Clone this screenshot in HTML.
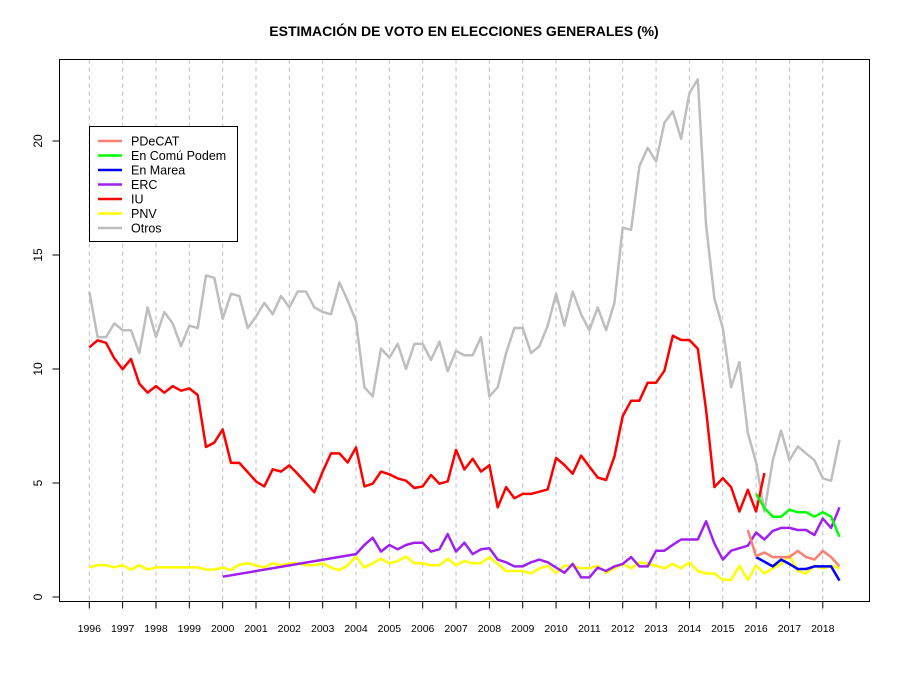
<!DOCTYPE html>
<html><head><meta charset="utf-8"><style>
body{margin:0;background:#fff}
svg{display:block;font-family:"Liberation Sans",Arial,sans-serif}
</style></head><body>
<svg id="chart" width="900" height="675" viewBox="0 0 900 675">
<text x="464" y="36" text-anchor="middle" font-size="14" font-weight="bold">ESTIMACIÓN DE VOTO EN ELECCIONES GENERALES (%)</text>
<g id="grid"></g>
<g id="series"></g>
<rect x="59.5" y="59.5" width="810" height="542" fill="none" stroke="#000" stroke-width="1"/>
<g id="yaxis"></g>
<g id="xaxis"></g>
<g id="legend"></g>
</svg>
<script>
const years=[1996,1997,1998,1999,2000,2001,2002,2003,2004,2005,2006,2007,2008,2009,2010,2011,2012,2013,2014,2015,2016,2017,2018];
const yTicks=[0,5,10,15,20];
const seriesNames=["PDeCAT","En Comú Podem","En Marea","ERC","IU","PNV","Otros"];
const otrosStart=1996;
const otrosValues=[13.4,11.4,11.4,12.0,11.7,11.7,10.7,12.7,11.4,12.5,12.0,11.0,11.9,11.8,14.1,14.0,12.2,13.3,13.2,11.8,12.3,12.9,12.4,13.2,12.7,13.4,13.4,12.7,12.5,12.4,13.8,13.0,12.1,9.2,8.8,10.9,10.5,11.1,10.0,11.1,11.1,10.4,11.2,9.9,10.8,10.6,10.6,11.4,8.8,9.2,10.7,11.8,11.8,10.7,11.0,11.9,13.3,11.9,13.4,12.4,11.7,12.7,11.7,12.9,16.2,16.1,18.9,19.7,19.1,20.8,21.3,20.1,22.1,22.7,16.3,13.1,11.8,9.2,10.3,7.2,5.9,3.75,6.0,7.3,6.0,6.6,6.3,6.0,5.2,5.1,6.9];
const pnvStart=1996;
const pnvValues=[1.3,1.4,1.4,1.3,1.4,1.2,1.4,1.2,1.3,1.3,1.3,1.3,1.3,1.3,1.2,1.2,1.29,1.18,1.42,1.48,1.39,1.29,1.48,1.39,1.48,1.48,1.39,1.39,1.48,1.29,1.18,1.39,1.77,1.29,1.48,1.68,1.48,1.58,1.77,1.48,1.48,1.39,1.39,1.68,1.39,1.58,1.48,1.48,1.75,1.45,1.14,1.14,1.14,1.03,1.26,1.37,1.06,1.37,1.37,1.26,1.26,1.37,1.06,1.26,1.45,1.26,1.52,1.45,1.37,1.26,1.45,1.26,1.52,1.14,1.03,1.03,0.75,0.75,1.37,0.75,1.37,1.03,1.26,1.45,1.83,1.14,1.03,1.37,1.26,1.37,1.26];
const iuStart=1996;
const iuValues=[10.95,11.26,11.15,10.47,9.99,10.44,9.36,8.96,9.25,8.96,9.25,9.05,9.15,8.86,6.58,6.77,7.35,5.88,5.88,5.48,5.07,4.85,5.6,5.5,5.77,5.4,5.0,4.59,5.5,6.3,6.3,5.9,6.56,4.85,4.97,5.5,5.38,5.2,5.1,4.78,4.85,5.35,4.97,5.07,6.45,5.59,6.06,5.5,5.78,3.93,4.82,4.33,4.52,4.52,4.62,4.72,6.1,5.79,5.41,6.2,5.72,5.24,5.13,6.16,7.93,8.61,8.61,9.4,9.4,9.92,11.46,11.27,11.27,10.89,8.2,4.82,5.21,4.82,3.75,4.7,3.75,5.44];
const ercStart=2000;
const ercValues=[0.89,null,null,null,null,null,null,null,null,null,null,null,null,null,null,null,1.88,2.28,2.6,1.99,2.28,2.09,2.28,2.38,2.38,1.99,2.09,2.76,1.99,2.38,1.88,2.09,2.14,1.64,1.52,1.34,1.34,1.52,1.64,1.52,1.29,1.06,1.45,0.86,0.86,1.29,1.14,1.34,1.45,1.75,1.34,1.34,2.03,2.03,2.29,2.52,2.52,2.52,3.32,2.34,1.64,2.03,2.14,2.25,2.83,2.52,2.9,3.03,3.03,2.94,2.94,2.72,3.44,3.03,3.93];
const mareaStart=2016;
const mareaValues=[1.75,1.55,1.34,1.64,1.45,1.23,1.23,1.34,1.34,1.34,0.72];
const comuStart=2016;
const comuValues=[4.52,3.9,3.52,3.52,3.83,3.72,3.72,3.52,3.72,3.52,2.64];
const pdecatStart=2015.75;
const pdecatValues=[2.94,1.79,1.95,1.75,1.75,1.75,2.02,1.75,1.64,2.02,1.75,1.34];

const NS="http://www.w3.org/2000/svg";
const X0=89.3,PXY=33.34,Y0=597,PXV=22.8;
function xs(t){return X0+(t-1996)*PXY;}
function ys(v){return Y0-v*PXV;}
function mk(tag,attrs,parent){const e=document.createElementNS(NS,tag);for(const k in attrs)e.setAttribute(k,attrs[k]);parent.appendChild(e);return e;}

const grid=document.getElementById('grid');
const xaxis=document.getElementById('xaxis');
years.forEach(y=>{
  const g=mk('line',{x1:xs(y),x2:xs(y),y1:59.5,y2:601.5,stroke:'#bebebe','stroke-dasharray':'4,4','stroke-width':1},grid);
  
  
  const t=mk('line',{x1:xs(y),x2:xs(y),y1:601.5,y2:608.5,stroke:'#000'},xaxis);
  
  
  const l=mk('text',{x:xs(y),y:632,'text-anchor':'middle','font-size':10.5},xaxis);
  l.textContent=y;
  
  
});
mk('line',{x1:xs(1996),x2:xs(2018),y1:601.5,y2:601.5,stroke:'#000'},xaxis);

const yaxis=document.getElementById('yaxis');
mk('line',{x1:59.5,x2:59.5,y1:ys(0),y2:ys(20),stroke:'#000'},yaxis);
yTicks.forEach(v=>{
  const t=mk('line',{x1:52.5,x2:59.5,y1:ys(v),y2:ys(v),stroke:'#000'},yaxis);
  
  
  const l=mk('text',{x:0,y:0,'text-anchor':'middle','font-size':12,transform:'translate(42,'+ys(v)+') rotate(-90)'},yaxis);
  l.textContent=v;
  
  
});

const sg=document.getElementById('series');
function drawSeries(start,vals,color,name){
  const pts=[];
  vals.forEach((v,i)=>{if(v!==null)pts.push(xs(start+i/4).toFixed(1)+','+ys(v).toFixed(1));});
  const p=mk('polyline',{points:pts.join(' '),fill:'none',stroke:color,'stroke-width':2.5,'stroke-linejoin':'round'},sg);
  
  
}
drawSeries(otrosStart,otrosValues,'#bebebe','otros-line');
drawSeries(pnvStart,pnvValues,'#ffff00','pnv-line');
drawSeries(iuStart,iuValues,'#ff0000','iu-line');
drawSeries(ercStart,ercValues,'#a020f0','erc-line');
drawSeries(mareaStart,mareaValues,'#0000ff','en-marea-line');
drawSeries(comuStart,comuValues,'#00ff00','en-comu-podem-line');
drawSeries(pdecatStart,pdecatValues,'#fa8072','pdecat-line');

const lg=document.getElementById('legend');
mk('rect',{x:89.5,y:126.5,width:148,height:115,fill:'#fff',stroke:'#000'},lg);
const lcolors=['#fa8072','#00ff00','#0000ff','#a020f0','#ff0000','#ffff00','#bebebe'];
seriesNames.forEach((n,i)=>{
  const yy=141+i*14.5;
  const ln=mk('line',{x1:98,x2:122,y1:yy,y2:yy,stroke:lcolors[i],'stroke-width':2.5},lg);
  
  
  const t=mk('text',{x:131,y:yy+4.5,'font-size':12.5},lg);
  t.textContent=n;
  
  
});
</script>
</body></html>
